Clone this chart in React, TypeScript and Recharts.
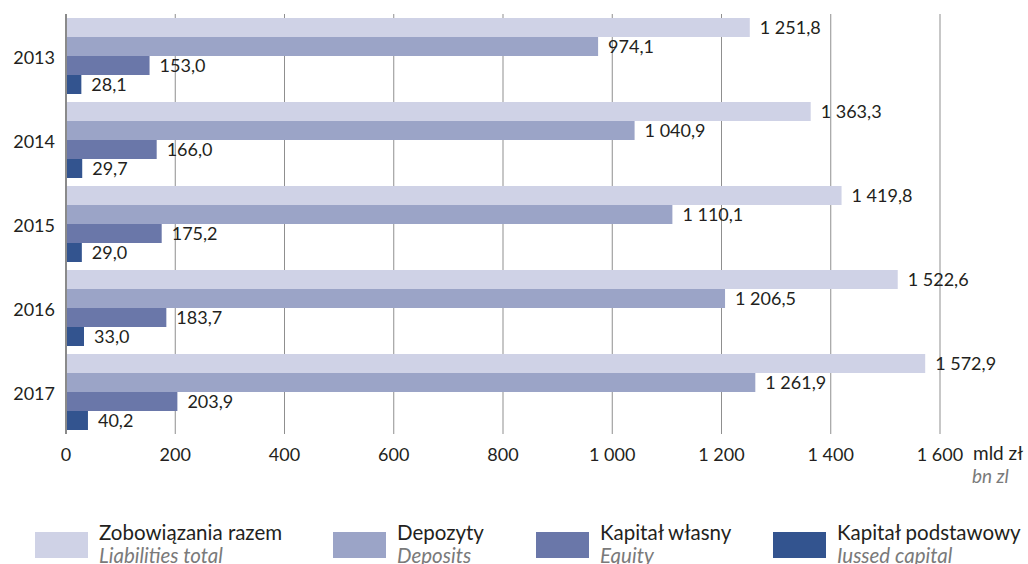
import React from 'react';
import { BarChart, Bar, XAxis, YAxis, CartesianGrid, LabelList } from 'recharts';

const years = ['2013', '2014', '2015', '2016', '2017'];
const liabilities = [1251.8, 1363.3, 1419.8, 1522.6, 1572.9];
const deposits = [974.1, 1040.9, 1110.1, 1206.5, 1261.9];
const equity = [153.0, 166.0, 175.2, 183.7, 203.9];
const issuedCapital = [28.1, 29.7, 29.0, 33.0, 40.2];
const xTicks = [0, 200, 400, 600, 800, 1000, 1200, 1400, 1600];

const seriesInfo = [
    { key: 'liabilities', pl: 'Zobowiązania razem', en: 'Liabilities total', color: '#cfd2e6', left: 35 },
    { key: 'deposits', pl: 'Depozyty', en: 'Deposits', color: '#9ba4c7', left: 333 },
    { key: 'equity', pl: 'Kapitał własny', en: 'Equity', color: '#6a77a9', left: 536 },
    { key: 'issued', pl: 'Kapitał podstawowy', en: 'Iussed capital', color: '#33548f', left: 773 },
];

const data = years.map((year, i) => ({
    year,
    liabilities: liabilities[i],
    deposits: deposits[i],
    equity: equity[i],
    issued: issuedCapital[i],
}));

const FONT = "Lato, 'Open Sans', sans-serif";
const TEXT = '#231f20';

// polish style numbers: "1 251,8"
const fmt = (v: number, digits: number) => {
    const [intPart, dec] = v.toFixed(digits).split('.');
    const grouped = intPart.replace(/\B(?=(\d{3})+(?!\d))/g, ' ');
    return dec ? `${grouped},${dec}` : grouped;
};

const App: React.FC = () => {
    return (
        <div style={{ position: 'absolute', left: 0, top: 0, width: 1028, height: 564, background: '#fff', fontFamily: FONT, overflow: 'hidden' }}>
            <BarChart
                width={1028}
                height={564}
                data={data}
                layout="vertical"
                margin={{ top: 14, right: 88, left: 0, bottom: 100 }}
                barCategoryGap={4}
                barGap={0}
                style={{ fontFamily: FONT }}
            >
                <CartesianGrid horizontal={false} stroke="#8f8f8f" strokeWidth={1} />
                <XAxis
                    type="number"
                    domain={[0, 1600]}
                    ticks={xTicks}
                    height={30}
                    axisLine={false}
                    tickLine={false}
                    tickSize={0}
                    tickMargin={14}
                    tickFormatter={(v: number) => fmt(v, 0)}
                    tick={{ fill: TEXT, fontSize: 18 }}
                />
                <YAxis
                    type="category"
                    dataKey="year"
                    width={66}
                    axisLine={{ stroke: '#8a8a8a', strokeWidth: 2 }}
                    tickLine={false}
                    tickSize={0}
                    tickMargin={11}
                    tick={{ fill: TEXT, fontSize: 18, dy: 2 }}
                />
                {seriesInfo.map((s) => (
                    <Bar key={s.key} dataKey={s.key} fill={s.color} isAnimationActive={false}>
                        <LabelList
                            dataKey={s.key}
                            position="right"
                            offset={10}
                            formatter={(v: number) => fmt(v, 1)}
                            style={{ fill: TEXT, fontSize: 18 }}
                        />
                    </Bar>
                ))}
            </BarChart>

            {/* unit */}
            <div style={{ position: 'absolute', left: 973, top: 442, fontSize: 19, color: TEXT, lineHeight: '22px' }}>mld zł</div>
            <div style={{ position: 'absolute', left: 972, top: 465, fontSize: 19, color: '#7a7a7a', fontStyle: 'italic', lineHeight: '22px' }}>bn zl</div>

            {/* legend */}
            {seriesInfo.map((s) => (
                <div key={s.key} style={{ position: 'absolute', left: s.left, top: 521 }}>
                    <div style={{ position: 'absolute', left: 0, top: 11, width: 53, height: 26, background: s.color }} />
                    <div style={{ position: 'absolute', left: 64, top: 0, whiteSpace: 'nowrap', fontSize: 20.5, lineHeight: '23px' }}>
                        <div style={{ color: TEXT }}>{s.pl}</div>
                        <div style={{ color: '#7a7a7a', fontStyle: 'italic' }}>{s.en}</div>
                    </div>
                </div>
            ))}
        </div>
    );
};

export default App;
